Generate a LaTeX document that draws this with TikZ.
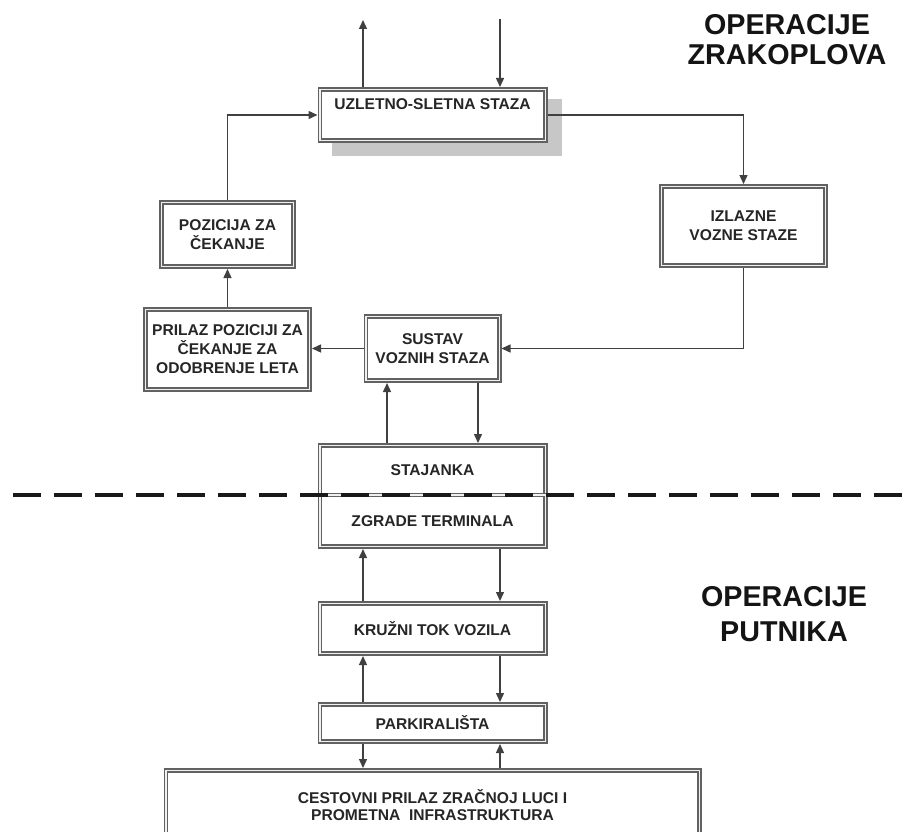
\documentclass[tikz,border=0pt]{standalone}
\usepackage{fontspec}
\setmainfont{Liberation Sans}
\usetikzlibrary{arrows.meta,backgrounds}
\begin{document}
\begin{tikzpicture}[x=1pt,y=-1pt,
  boxd/.style={draw=black!62, double=black!6, fill=white, line width=1.6pt, double distance=1.4pt, outer sep=2.3pt, inner sep=0pt, align=center, text=black!85, font=\fontsize{15.6}{19}\selectfont\bfseries},
  arr/.style={draw=black!75, line width=1.4pt, -{Triangle[length=9pt,width=8pt]}},
  titletext/.style={align=center, inner sep=0pt, text=black!92},
  dashline/.style={draw=black!90, line width=4pt, dash pattern=on 28pt off 13pt},
  shadowc/.style={fill=black!22}
]
\useasboundingbox (0,0) rectangle (907,832);

% titles
\node[titletext, font=\fontsize{28.7}{30}\selectfont\bfseries] (T1) at (787,40) {OPERACIJE\\ZRAKOPLOVA};
\node[titletext, font=\fontsize{28.7}{35}\selectfont\bfseries] (T2) at (784,614) {OPERACIJE\\PUTNIKA};

% boxes
\node[boxd, minimum width=225.4pt, minimum height=51.4pt, text height=11.5pt, text depth=23pt] (R) at (432.5,115) {UZLETNO-SLETNA STAZA};
\node[boxd, minimum width=164.4pt, minimum height=79.4pt] (IZL) at (743.5,226) {IZLAZNE\\VOZNE STAZE};
\node[boxd, minimum width=132.4pt, minimum height=64.4pt] (POZ) at (227.5,234.5) {POZICIJA ZA\\ČEKANJE};
\node[boxd, minimum width=164.4pt, minimum height=80.4pt] (PRI) at (227.5,349.5) {PRILAZ POZICIJI ZA\\ČEKANJE ZA\\ODOBRENJE LETA};
\node[boxd, minimum width=133.4pt, minimum height=64.4pt] (SUS) at (432.5,348.5) {SUSTAV\\VOZNIH STAZA};
\node[boxd, minimum width=225.4pt, minimum height=49.7pt] (STAJ) at (432.5,470.15) {STAJANKA};
\node[boxd, minimum width=225.4pt, minimum height=51.7pt] (ZGR) at (432.5,520.85) {ZGRADE TERMINALA};
\node[boxd, minimum width=225.4pt, minimum height=50.4pt] (KRU) at (432.5,628.5) {KRUŽNI TOK VOZILA};
\node[boxd, minimum width=225.4pt, minimum height=37.4pt] (PAR) at (432.5,723) {PARKIRALIŠTA};
\node[boxd, minimum width=533.4pt, minimum height=87.4pt, text depth=18.5pt, font=\fontsize{15.6}{17}\selectfont\bfseries] (CES) at (432.5,814) {CESTOVNI PRILAZ ZRAČNOJ LUCI I\\PROMETNA\ \ INFRASTRUKTURA};

% shadow of runway box
\begin{scope}[on background layer]
\fill[shadowc] ([shift={(14,12.5)}]R.north west) rectangle ([shift={(14,12.5)}]R.south east);
\end{scope}

% free ends
\coordinate (upEnd) at (363,20);
\coordinate (downStart) at (500,19);

% connectors
\draw[arr] ([xshift=-69.5]R.north) -- (upEnd);
\draw[arr] (downStart) -- ([xshift=67.5]R.north);
\draw[arr] (R.east) -| (IZL.north);
\draw[arr] (IZL.south) |- (SUS.east);
\draw[arr] (SUS.west) -- (SUS.west -| PRI.east);
\draw[arr] (PRI.north) -- (POZ.south);
\draw[arr] (POZ.north) |- (R.west);
\draw[arr] ([xshift=45.5]SUS.south) -- ([xshift=45.5]STAJ.north);
\draw[arr] ([xshift=-45.5]STAJ.north) -- ([xshift=-45.5]SUS.south);
\draw[arr] ([xshift=67.5]ZGR.south) -- ([xshift=67.5]KRU.north);
\draw[arr] ([xshift=-69.5]KRU.north) -- ([xshift=-69.5]ZGR.south);
\draw[arr] ([xshift=67.5]KRU.south) -- ([xshift=67.5]PAR.north);
\draw[arr] ([xshift=-69.5]PAR.north) -- ([xshift=-69.5]KRU.south);
\draw[arr] ([xshift=-69.5]PAR.south) -- ([xshift=-69.5]CES.north);
\draw[arr] ([xshift=67.5]CES.north) -- ([xshift=67.5]PAR.south);

% divider
\coordinate (dL) at (13,495);
\coordinate (dR) at (907,495);
\draw[dashline] (dL) -- (dR);
\end{tikzpicture}
\end{document}
